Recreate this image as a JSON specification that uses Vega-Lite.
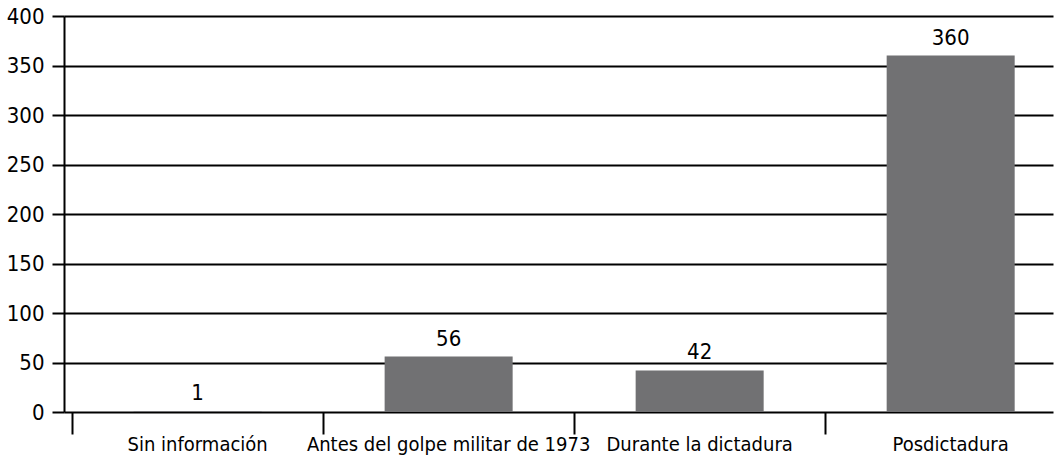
{
  "$schema": "https://vega.github.io/schema/vega-lite/v6.json",
  "width": 989,
  "height": 396,
  "autosize": {"type": "none"},
  "padding": {"left": 64, "top": 16, "right": 5, "bottom": 44},
  "background": "white",
  "config": {
    "view": {"stroke": null},
    "font": "DejaVu Sans Condensed",
    "axis": {"labelFont": "DejaVu Sans Condensed", "labelColor": "#000000"}
  },
  "data": {
    "values": [
      {"categoria": "Sin información", "valor": 1},
      {"categoria": "Antes del golpe militar de 1973", "valor": 56},
      {"categoria": "Durante la dictadura", "valor": 42},
      {"categoria": "Posdictadura", "valor": 360}
    ]
  },
  "encoding": {
    "x": {
      "field": "categoria",
      "type": "nominal",
      "sort": null,
      "scale": {"paddingInner": 0.49, "paddingOuter": 0.215, "align": 0.645},
      "axis": {
        "title": null,
        "labelAngle": 0,
        "labelFontSize": 20,
        "labelPadding": 0,
        "labelLimit": 0,
        "labelBaseline": "top",
        "bandPosition": -0.48,
        "tickSize": 22,
        "tickWidth": 2,
        "tickColor": "#000000",
        "domain": false,
        "grid": false
      }
    },
    "y": {
      "field": "valor",
      "type": "quantitative",
      "scale": {"domain": [0, 400]},
      "axis": {
        "title": null,
        "values": [0, 50, 100, 150, 200, 250, 300, 350, 400],
        "labelFontSize": 22,
        "labelPadding": 8,
        "tickSize": 12,
        "tickWidth": 2,
        "tickColor": "#000000",
        "domainColor": "#000000",
        "domainWidth": 2,
        "grid": true,
        "gridColor": "#000000",
        "gridWidth": 2,
        "gridOpacity": 1
      }
    }
  },
  "layer": [
    {"mark": {"type": "bar", "color": "#717173"}},
    {
      "mark": {"type": "text", "baseline": "bottom", "dy": -6, "fontSize": 22, "color": "#000000"},
      "encoding": {"text": {"field": "valor", "type": "quantitative"}}
    }
  ]
}
